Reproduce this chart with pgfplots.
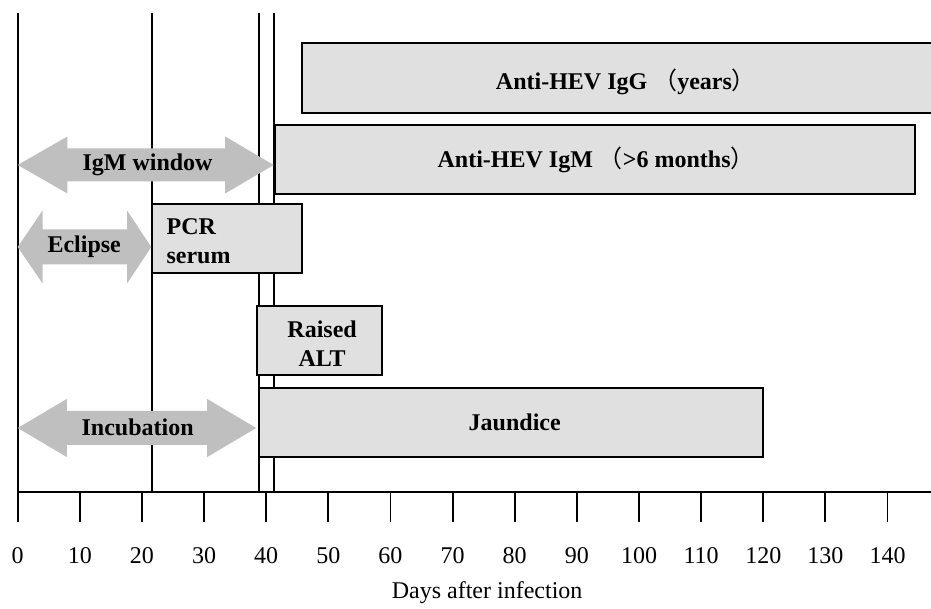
\documentclass[border=0pt]{standalone}
\usepackage{fontspec}
\setmainfont{Liberation Serif}
\newfontfamily\cjk{Noto Sans CJK SC}
\usepackage{pgfplots}
\pgfplotsset{compat=1.18}
\definecolor{boxgray}{gray}{0.88}
\definecolor{arrowgray}{gray}{0.75}

\begin{document}
\begin{tikzpicture}
\begin{axis}[
  name=ax,
  scale only axis,
  width=456.65pt, height=239.5pt,
  xmin=0, xmax=147, ymin=0, ymax=479,
  axis x line=bottom, axis y line=left,
  axis line style={-, line width=1pt},
  ytick=\empty,
  xtick={0,10,...,140},
  tick align=outside,
  major tick length=15pt,
  tick style={black, line width=0.9pt},
  /pgf/number format/assume math mode=true,
  x tick label style={font=\fontsize{12}{12}\selectfont, yshift=-9pt},
  xlabel={Days after infection},
  xlabel style={font=\fontsize{12}{12}\selectfont, at={(axis description cs:0.514,0)}, anchor=center, yshift=-50.5pt},
  nodes={font=\bfseries\fontsize{12}{14.5}\selectfont},
]
% vertical guide lines
\addplot[black, line width=1pt] coordinates {(21.6,0) (21.6,479)};
\addplot[black, line width=1pt] coordinates {(38.8,0) (38.8,479)};
\addplot[black, line width=1pt] coordinates {(41.3,0) (41.3,479)};

% boxes
\addplot[draw=black, line width=0.8pt, fill=boxgray] coordinates {(45.8,379) (150,379) (150,449) (45.8,449)} -- cycle;
\addplot[draw=black, line width=0.8pt, fill=boxgray] coordinates {(41.4,298) (144.4,298) (144.4,367) (41.4,367)} -- cycle;
\addplot[draw=black, line width=0.8pt, fill=boxgray] coordinates {(21.6,219) (45.8,219) (45.8,288) (21.6,288)} -- cycle;
\addplot[draw=black, line width=0.8pt, fill=boxgray] coordinates {(38.5,117) (58.6,117) (58.6,186) (38.5,186)} -- cycle;
\addplot[draw=black, line width=0.8pt, fill=boxgray] coordinates {(38.8,35) (120,35) (120,104) (38.8,104)} -- cycle;

% double arrows
\addplot[draw=none, fill=arrowgray] coordinates {(0,327) (8,355.5) (8,343.5) (33.4,343.5) (33.4,355.5) (41.2,327) (33.4,298.5) (33.4,310.5) (8,310.5) (8,298.5)} -- cycle;
\addplot[draw=none, fill=arrowgray] coordinates {(0,245) (4,281.5) (4,262.5) (17.6,262.5) (17.6,281.5) (21.5,245) (17.6,208.5) (17.6,227.5) (4,227.5) (4,208.5)} -- cycle;
\addplot[draw=none, fill=arrowgray] coordinates {(0,64) (7.9,93) (7.9,81) (30.5,81) (30.5,93) (38.4,64) (30.5,35) (30.5,47) (7.9,47) (7.9,35)} -- cycle;

\node at (axis cs:97.9,410) {Anti-HEV IgG\ {\cjk\mdseries （}years{\cjk\mdseries ）}};
\node at (axis cs:93.1,332) {Anti-HEV IgM\ {\cjk\mdseries （}>6 months{\cjk\mdseries ）}};
\node at (axis cs:20.9,327) {IgM window};
\node at (axis cs:10.7,245) {Eclipse};
\node[anchor=west, align=left, inner sep=0pt] at (axis cs:23.9,251) {PCR\\serum};
\node[align=center] at (axis cs:49.0,148.5) {Raised\\ALT};
\node at (axis cs:19.3,65) {Incubation};
\node at (axis cs:80.0,70) {Jaundice};
\end{axis}
\pgfresetboundingbox
\path[use as bounding box] ([xshift=-8.85pt,yshift=-58.5pt]ax.south west) rectangle ([yshift=6.5pt]ax.north east);
\end{tikzpicture}
\end{document}
